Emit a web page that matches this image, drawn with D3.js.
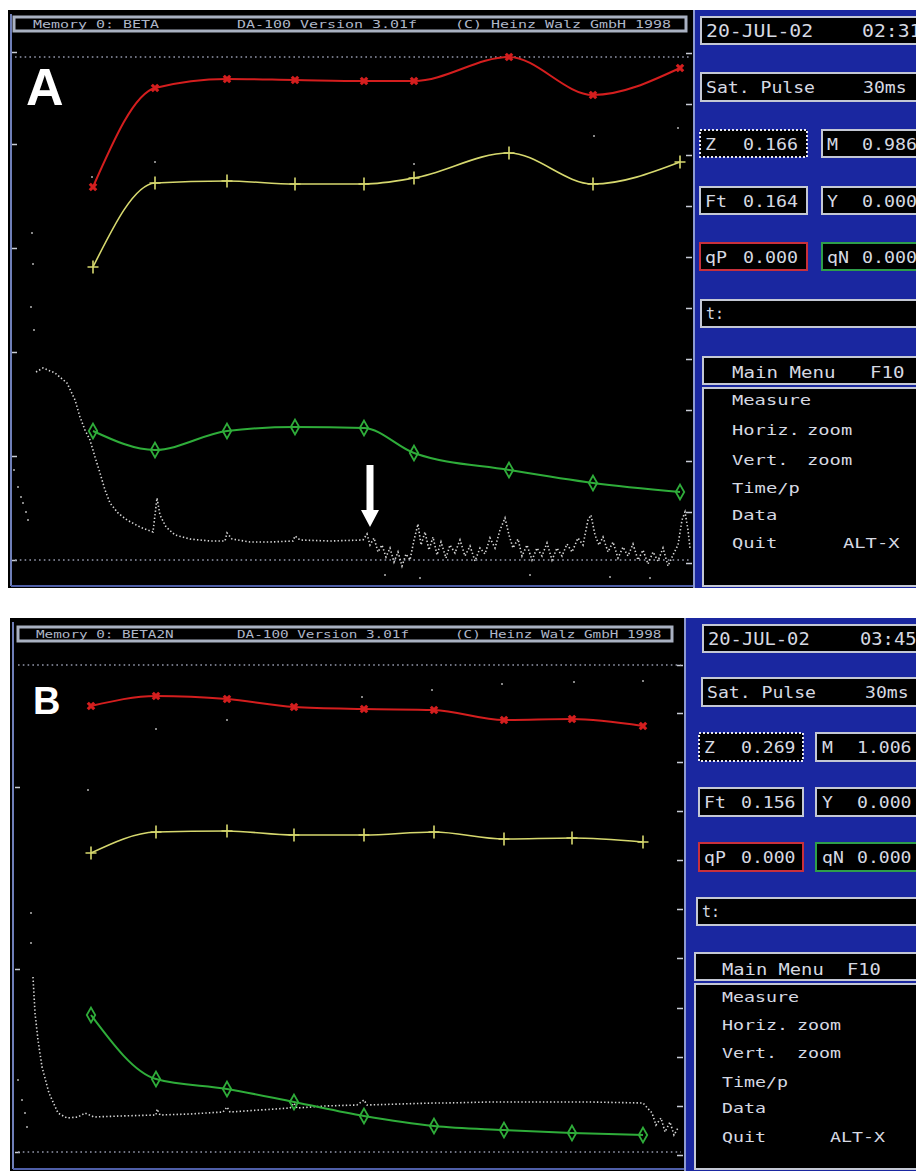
<!DOCTYPE html>
<html>
<head>
<meta charset="utf-8">
<script src="https://cdn.jsdelivr.net/npm/d3@7"></script>
<style>
  body { margin: 0; background: #fff; }
  svg { display: block; }
</style>
</head>
<body>
<svg id="canvas" width="916" height="1171"></svg>
<script>
// ---------- panel A (time in s, fluorescence in rel. units) ----------
const timeSpanA = [0, 136.2];
const pulsesA = [16.2, 28.6, 43, 56.6, 70.4, 80.4, 99.4, 116.2, 133.6];
const redA = [74.6, 94.4, 96.2, 96, 95.8, 95.8, 100.6, 93, 98.4];
const yellowA = [58.6, 75.4, 75.8, 75.2, 75.2, 76.4, 81.4, 75.2, 79.6];
const greenA = [25.8, 22, 25.8, 26.6, 26.4, 21.4, 18, 15.4, 13.6];
const refTopA = 100.6;
const leftTicksA = [0, 20.8, 41.6, 62.4, 83.2, 101.6];
const rightTicksA = [-0.6, 9.6, 19.8, 30, 40.2, 50.4, 60.6, 70.8, 81, 91.2, 101.4];
const traceA = [
  [4.8, 37.6], [6.2, 38.4], [8.6, 37.4], [11, 35.4], [12.6, 32], [13.6, 28.6], [14.6, 26],
  [15.6, 24], [16.6, 20.6], [17.6, 17.4], [18.6, 14], [19.6, 11.4], [21.2, 9.4], [23, 8],
  [25.6, 6.6], [28.2, 5.6], [29, 12.4], [29.6, 9], [30.8, 6.6], [32.6, 5], [35.6, 4.2],
  [39.6, 3.8], [42.6, 3.8], [43, 5.4], [44, 4.2], [47.6, 3.6], [51.6, 3.6], [56.2, 3.8],
  [56.6, 4.8], [57.6, 4], [63.6, 3.8], [70.2, 4],
  [71, 5.2], [71.6, 3], [72.4, 4.4], [73.2, 1.6], [74, 3], [74.8, 0.6], [75.6, 2.4], [76.4, -0.4],
  [77.2, 1.6], [78, -1.2], [78.8, 1.2], [79.6, 0], [80.4, 4], [81.2, 7.2], [81.8, 3], [82.6, 5.6],
  [83.4, 2], [84.2, 4.6], [85, 1], [85.8, 3.6], [86.8, 0.4], [87.6, 3], [88.6, 1.4], [89.6, 4],
  [90.6, 0.8], [91.6, 2.8], [92.6, -0.2], [93.6, 2.4], [94.6, 1.2], [95.6, 4.4], [96.6, 2.4],
  [97.6, 6], [98.6, 8.4], [99.4, 5], [100.2, 2.4], [101.2, 4.2], [102, 0.8], [103, 3], [104, 0],
  [105, 2.4], [106, 0.8], [107, 3.4], [108, 0], [109, 2.4], [110, 0.8], [111, 3.2], [112, 1.6],
  [113.2, 4.4], [114.2, 3], [115.2, 8], [115.8, 9], [116.6, 5], [117.4, 3], [118.2, 4.6],
  [119.2, 1.6], [120.2, 3.6], [121.2, 0.4], [122.2, 2.6], [123.2, 0.8], [124.2, 3.2], [125.2, 0],
  [126.2, 2], [127.2, -0.8], [128.2, 1.6], [129.2, -0.2], [130.2, 2.4], [131.2, -1.2], [132.2, 1],
  [133.2, 3], [134, 8], [134.6, 9.6], [135.2, 6], [135.6, 2.4]
];
const spotsA = [
  [0.4, 18], [1.2, 14.6], [1.8, 12.6], [2.2, 11.4], [2.8, 9.6], [3.2, 8], [4, 65.4], [4.2, 59.2],
  [3.8, 50.6], [4.4, 46], [16, 76.6], [28.6, 79.6], [80.4, 79.2], [116.4, 84.8], [133.2, 86.4],
  [74.6, -3], [81.6, -3.6], [103.6, -3], [119.6, -3.4], [127.6, -3.6]
];
const arrowA = [71.6, 19, 6.6]; // time, tail level, tip level
const headerA = ["Memory 0: BETA", "DA-100 Version 3.01f", "(C) Heinz Walz GmbH 1998"];
const stampA = ["20-JUL-02", "02:31"];
const pulseA = ["Sat. Pulse", "30ms"];
const fieldsA = [["Z", "0.166"], ["M", "0.986"], ["Ft", "0.164"], ["Y", "0.000"], ["qP", "0.000"], ["qN", "0.000"]];

// ---------- panel B ----------
const timeSpanB = [0, 133.8];
const pulsesB = [15.2, 28.2, 42.4, 55.8, 69.8, 83.8, 97.8, 111.4, 125.6];
const redB = [89.2, 91.2, 90.6, 89, 88.6, 88.4, 86.4, 86.6, 85.2];
const yellowB = [59.8, 64, 64.2, 63.4, 63.4, 64, 62.6, 62.8, 62];
const greenB = [27.4, 14.6, 12.6, 10, 7.2, 5.2, 4.4, 3.8, 3.4];
const refTopB = 97.4;
const leftTicksB = [0, 36.6, 73];
const rightTicksB = [-0.6, 9.2, 19, 28.8, 38.8, 48.6, 58.4, 68.2, 78, 87.8, 97.4];
const traceB = [
  [3.6, 35], [4, 27.8], [4.6, 22.4], [5.4, 17], [6.8, 11.8], [8.6, 7.8], [10.4, 6.8], [12.6, 7],
  [14, 7.8], [15.8, 7], [21, 7.2], [28.2, 7.4], [28.4, 8.6], [29, 7.4], [35, 7.6], [41.6, 8],
  [42.4, 9], [43, 8], [49, 8.4], [55, 8.8], [55.8, 9.8], [56.4, 8.8], [62, 9.2], [68.4, 9.4],
  [69.8, 10.4], [70.4, 9.4], [77, 9.6], [83.8, 9.8], [86.2, 9.8], [95, 10], [104.2, 10], [115, 10],
  [125.6, 9.8], [127.4, 7.8], [128.2, 5.4], [129.2, 6.8], [130, 4], [131, 6], [131.8, 3.4], [132.6, 4.8]
];
const spotsB = [
  [0.6, 14.4], [1.4, 10.4], [2, 7.8], [2.4, 5], [3.2, 47.8], [3.2, 41.8], [14.6, 72.4],
  [28.2, 84.6], [42.4, 86.4], [69.4, 91], [83.4, 92.4], [97.4, 93.6], [111.8, 94], [125.6, 94.2]
];
const headerB = ["Memory 0: BETA2N", "DA-100 Version 3.01f", "(C) Heinz Walz GmbH 1998"];
const stampB = ["20-JUL-02", "03:45"];
const pulseB = ["Sat. Pulse", "30ms"];
const fieldsB = [["Z", "0.269"], ["M", "1.006"], ["Ft", "0.156"], ["Y", "0.000"], ["qP", "0.000"], ["qN", "0.000"]];

const menuItems = [["Measure", ""], ["Horiz.", "zoom"], ["Vert.", "zoom"], ["Time/p", ""], ["Data", ""], ["Quit", "ALT-X"]];

// ---------- layout (pixels) ----------
const layoutA = {
  screen: [8, 10, 588], side: 693, plotX: [12, 693], yRange: [560, 40],
  header: { x0: 14, x1: 686, y0: 17, y1: 31, base: 28, xs: [33, 237, 455], cw: 9 },
  label: { text: "A", x: 26, base: 105, size: 52 },
  stamp: { x0: 701, y0: 17, y1: 44, tx: [706, 862], base: 37, cw: 11.9 },
  pulse: { x0: 701, y0: 73, y1: 101, tx: [706, 863], base: 93, cw: 10.9 },
  rows: [130, 187, 243], rowH: 27, colX: [700, 822], colW: 107, lx: [705, 827], vx: [743, 862], cw: 11,
  tbox: { x0: 701, y0: 300, y1: 327 },
  main: { x0: 703, y0: 357, y1: 384, tx: [732, 870], base: 378, cw: 11.5 },
  menu: { x0: 703, y0: 388, tx: 732, col2: [0, 807, 807, 0, 0, 843], bases: [405, 435, 465, 493, 520, 548], cw: 11.3 }
};
const layoutB = {
  screen: [10, 618, 1171], side: 684, plotX: [15, 684], yRange: [1152, 632],
  header: { x0: 18, x1: 672, y0: 627, y1: 641, base: 638, xs: [36, 237, 455], cw: 8.6 },
  label: { text: "B", x: 33, base: 714, size: 38 },
  stamp: { x0: 703, y0: 625, y1: 652, tx: [708, 860], base: 645, cw: 11.3 },
  pulse: { x0: 702, y0: 678, y1: 706, tx: [707, 865], base: 698, cw: 10.9 },
  rows: [733, 788, 843], rowH: 28, colX: [699, 816], colW: 104, lx: [704, 822], vx: [741, 857], cw: 10.9,
  tbox: { x0: 697, y0: 898, y1: 925 },
  main: { x0: 695, y0: 953, y1: 980, tx: [722, 847], base: 975, cw: 11.3 },
  menu: { x0: 695, y0: 984, tx: 722, col2: [0, 797, 797, 0, 0, 830], bases: [1002, 1030, 1058, 1087, 1113, 1142], cw: 11 }
};

const svg = d3.select("#canvas");
const mono = "'DejaVu Sans Mono', monospace";

function txt(g, s, x, y, size, cw, color) {
  return g.append("text")
    .attr("x", x).attr("y", y)
    .attr("font-family", mono)
    .attr("font-size", size)
    .attr("fill", color || "#d6d9e2")
    .attr("textLength", s.length * cw)
    .attr("lengthAdjust", "spacingAndGlyphs")
    .text(s);
}

function box(g, x0, y0, x1, y1, stroke, dash) {
  return g.append("rect")
    .attr("x", x0).attr("y", y0)
    .attr("width", x1 - x0).attr("height", y1 - y0)
    .attr("fill", "#000")
    .attr("stroke", stroke || "#c4c8d4")
    .attr("stroke-width", 2)
    .attr("stroke-dasharray", dash || null);
}

function drawPanel(L, d) {
  const g = svg.append("g");
  const top = L.screen[1], bottom = L.screen[2];

  g.append("rect").attr("x", L.screen[0]).attr("y", top)
    .attr("width", 916 - L.screen[0]).attr("height", bottom - top).attr("fill", "#000");

  // blue side panel
  g.append("rect").attr("x", L.side).attr("y", top)
    .attr("width", 916 - L.side).attr("height", bottom - top).attr("fill", "#1a27a0");
  g.append("line").attr("x1", L.side + 1).attr("x2", L.side + 1).attr("y1", top).attr("y2", bottom)
    .attr("stroke", "#8d9ad0").attr("stroke-width", 2);

  // plot frame
  g.append("line").attr("x1", L.screen[0] + 3).attr("x2", L.screen[0] + 3).attr("y1", top + 4).attr("y2", bottom - 2)
    .attr("stroke", "#6f7fb8").attr("stroke-width", 2);
  g.append("line").attr("x1", L.screen[0] + 3).attr("x2", L.side).attr("y1", bottom - 2).attr("y2", bottom - 2)
    .attr("stroke", "#4f5fa8").attr("stroke-width", 2);

  // header bar
  const h = L.header;
  g.append("rect").attr("x", h.x0).attr("y", h.y0).attr("width", h.x1 - h.x0).attr("height", h.y1 - h.y0)
    .attr("fill", "#000").attr("stroke", "#a9b1c2").attr("stroke-width", 3);
  d.header.forEach((s, i) => txt(g, s, h.xs[i], h.base, 10, h.cw, "#aeb6c8"));

  const x = d3.scaleLinear().domain(d.span).range(L.plotX);
  const y = d3.scaleLinear().domain([0, 104]).range(L.yRange);

  // ticks
  g.append("g").attr("transform", `translate(${L.plotX[0]},0)`)
    .call(d3.axisRight(y).tickValues(d.leftTicks).tickSize(5).tickFormat(""))
    .call(a => a.select(".domain").remove())
    .selectAll("line").attr("stroke", "#c8ccd6").attr("stroke-width", 1.5);
  g.append("g").attr("transform", `translate(${L.plotX[1] - 1},0)`)
    .call(d3.axisLeft(y).tickValues(d.rightTicks).tickSize(6).tickFormat(""))
    .call(a => a.select(".domain").remove())
    .selectAll("line").attr("stroke", "#c8ccd6").attr("stroke-width", 1.5);

  // dotted reference lines
  g.selectAll(".ref").data([0, d.refTop]).join("line")
    .attr("x1", L.plotX[0] + 3).attr("x2", L.plotX[1] - 3)
    .attr("y1", v => y(v)).attr("y2", v => y(v))
    .attr("stroke", "#9297ab").attr("stroke-width", 1.4).attr("stroke-dasharray", "1.6 3.2");

  // fluorescence trace
  const tline = d3.line().x(p => x(p[0])).y(p => y(p[1]));
  g.append("path").attr("d", tline(d.trace))
    .attr("fill", "none").attr("stroke", "#d8d8d8").attr("stroke-width", 1.6)
    .attr("stroke-dasharray", "1.4 2.2");
  g.selectAll(".spot").data(d.spots).join("rect")
    .attr("x", p => x(p[0]) - 0.8).attr("y", p => y(p[1]) - 0.8)
    .attr("width", 1.6).attr("height", 1.6).attr("fill", "#d0d0d0");

  // parameter series
  const series = [
    { v: d.red, color: "#d41e1e", w: 2, mark: "x" },
    { v: d.yellow, color: "#d6d86e", w: 1.6, mark: "+" },
    { v: d.green, color: "#2fad3a", w: 2, mark: "d" }
  ];
  const sline = d3.line().curve(d3.curveMonotoneX).x(p => x(p[0])).y(p => y(p[1]));
  series.forEach(s => {
    const pts = d.pulses.map((t, i) => [t, s.v[i]]);
    g.append("path").attr("d", sline(pts))
      .attr("fill", "none").attr("stroke", s.color).attr("stroke-width", s.w);
    const m = g.selectAll(null).data(pts).join("path")
      .attr("transform", p => `translate(${x(p[0])},${y(p[1])})`);
    if (s.mark === "x") {
      m.attr("d", d3.symbol(d3.symbolCross, 46)).attr("fill", s.color)
        .attr("transform", p => `translate(${x(p[0])},${y(p[1])}) rotate(45)`);
    } else if (s.mark === "+") {
      m.attr("d", "M-5.5,0H5.5M0,-6.5V6.5").attr("stroke", s.color).attr("stroke-width", 1.6).attr("fill", "none");
    } else {
      m.attr("d", d3.symbol(d3.symbolDiamond, 62)).attr("fill", "none")
        .attr("stroke", s.color).attr("stroke-width", 1.8);
    }
  });

  // arrow marking the switch
  if (d.arrow) {
    const ax = x(d.arrow[0]), y0 = y(d.arrow[1]), tip = y(d.arrow[2]);
    g.append("path")
      .attr("d", `M${ax - 3.5},${y0}H${ax + 3.5}V${tip - 17}H${ax + 9}L${ax},${tip}L${ax - 9},${tip - 17}H${ax - 3.5}Z`)
      .attr("fill", "#fff");
  }

  // panel letter
  g.append("text").attr("x", L.label.x).attr("y", L.label.base)
    .attr("font-family", "'Liberation Sans', Arial, sans-serif").attr("font-weight", "bold")
    .attr("font-size", L.label.size).attr("fill", "#fff").text(L.label.text);

  // side panel boxes
  const st = L.stamp;
  box(g, st.x0, st.y0, 930, st.y1);
  txt(g, d.stamp[0], st.tx[0], st.base, 17, st.cw);
  txt(g, d.stamp[1], st.tx[1], st.base, 17, st.cw);

  const pu = L.pulse;
  box(g, pu.x0, pu.y0, 930, pu.y1);
  txt(g, d.pulse[0], pu.tx[0], pu.base, 16, pu.cw);
  txt(g, d.pulse[1], pu.tx[1], pu.base, 16, pu.cw);

  const strokes = [["#e8e8f0", "#c4c8d4"], ["#c4c8d4", "#c4c8d4"], ["#c8303c", "#2e9e4a"]];
  d.fields.forEach((f, i) => {
    const r = Math.floor(i / 2), c = i % 2;
    const y0 = L.rows[r], y1 = y0 + L.rowH;
    const x0 = L.colX[c], x1 = c === 0 ? x0 + L.colW : 930;
    box(g, x0, y0, x1, y1, strokes[r][c], i === 0 ? "2 2" : null);
    txt(g, f[0], L.lx[c], y0 + 20, 16, L.cw);
    txt(g, f[1], L.vx[c], y0 + 20, 16, L.cw);
  });

  box(g, L.tbox.x0, L.tbox.y0, 930, L.tbox.y1);
  txt(g, "t:", L.tbox.x0 + 5, L.tbox.y0 + 19, 15, 9);

  const mm = L.main;
  box(g, mm.x0, mm.y0, 930, mm.y1);
  txt(g, "Main Menu", mm.tx[0], mm.base, 15, mm.cw);
  txt(g, "F10", mm.tx[1], mm.base, 15, mm.cw);

  const me = L.menu;
  box(g, me.x0, me.y0, 930, bottom - 2);
  menuItems.forEach((it, i) => {
    txt(g, it[0], me.tx, me.bases[i], 14.5, me.cw);
    if (it[1]) txt(g, it[1], me.col2[i], me.bases[i], 14.5, me.cw);
  });
}

drawPanel(layoutA, {
  span: timeSpanA, pulses: pulsesA, red: redA, yellow: yellowA, green: greenA,
  refTop: refTopA, leftTicks: leftTicksA, rightTicks: rightTicksA,
  trace: traceA, spots: spotsA, arrow: arrowA,
  header: headerA, stamp: stampA, pulse: pulseA, fields: fieldsA
});
drawPanel(layoutB, {
  span: timeSpanB, pulses: pulsesB, red: redB, yellow: yellowB, green: greenB,
  refTop: refTopB, leftTicks: leftTicksB, rightTicks: rightTicksB,
  trace: traceB, spots: spotsB, arrow: null,
  header: headerB, stamp: stampB, pulse: pulseB, fields: fieldsB
});
</script>
</body>
</html>
